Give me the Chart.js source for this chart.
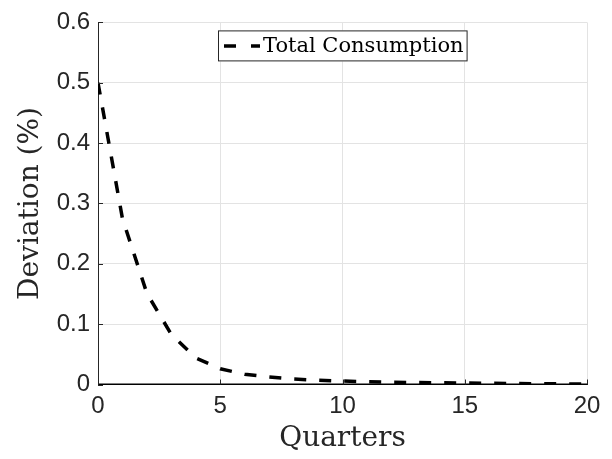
<!DOCTYPE html>
<html>
<head>
<meta charset="utf-8">
<script src="https://cdn.jsdelivr.net/npm/chart.js"></script>
<style>
  html, body { margin: 0; padding: 0; background: #fff; }
  #wrap { width: 612px; height: 459px; }
</style>
</head>
<body>
<div id="wrap"><canvas id="chart" width="612" height="459"></canvas></div>
<script>
// values
const quarters = [0, 1, 2, 3, 4, 5, 6, 7, 8, 9, 10, 11, 12, 13, 14, 15, 16, 17, 18, 19, 20];
const totalConsumption = [0.5, 0.275, 0.151, 0.083, 0.044, 0.026, 0.017, 0.0125, 0.009, 0.007,
  0.0057, 0.0046, 0.0038, 0.0032, 0.0028, 0.0024, 0.002, 0.0016, 0.0013, 0.001, 0.0008];
const zeroLine = [0, 0, 0, 0, 0, 0, 0, 0, 0, 0, 0, 0, 0, 0, 0, 0, 0, 0, 0, 0, 0];
const xTicks = [0, 5, 10, 15, 20];
const yTicks = [0, 0.1, 0.2, 0.3, 0.4, 0.5, 0.6];

const axisColor = '#262626';
const gridColor = '#e3e3e3';

const toPoints = (xs, ys) => xs.map((x, i) => ({ x: x, y: ys[i] }));

// MATLAB style legend box inside the axes
const legendBox = {
  id: 'legendBox',
  afterDatasetsDraw(chart) {
    const { ctx, chartArea } = chart;
    const ds = chart.data.datasets[0];
    ctx.save();
    ctx.font = '21px "DejaVu Serif"';
    const tw = ctx.measureText(ds.label).width;
    const padL = 6, sample = 36, gap = 3, padR = 4;
    const w = padL + sample + gap + tw + padR;
    const h = 31;
    const x0 = Math.round((chartArea.left + chartArea.right) / 2 - w / 2);
    const y0 = chartArea.top + 8;
    ctx.fillStyle = '#fff';
    ctx.fillRect(x0, y0, w, h);
    ctx.strokeStyle = axisColor;
    ctx.lineWidth = 1;
    ctx.strokeRect(x0 + 0.5, y0 + 0.5, w - 1, h - 1);

    ctx.strokeStyle = ds.borderColor;
    ctx.lineWidth = ds.borderWidth;
    ctx.setLineDash([12, 15]);
    ctx.beginPath();
    ctx.moveTo(x0 + padL, y0 + h / 2);
    ctx.lineTo(x0 + padL + sample, y0 + h / 2);
    ctx.stroke();
    ctx.setLineDash([]);

    ctx.fillStyle = '#000';
    ctx.textBaseline = 'middle';
    ctx.textAlign = 'left';
    ctx.fillText(ds.label, x0 + padL + sample + gap, y0 + h / 2 + 1);
    ctx.restore();
  }
};

// small inward tick marks
const innerTicks = {
  id: 'innerTicks',
  afterDraw(chart) {
    const { ctx, chartArea, scales } = chart;
    ctx.save();
    ctx.strokeStyle = axisColor;
    ctx.lineWidth = 1;
    ctx.beginPath();
    yTicks.forEach(v => {
      const y = Math.round(scales.y.getPixelForValue(v)) + 0.5;
      ctx.moveTo(chartArea.left, y);
      ctx.lineTo(chartArea.left + 5, y);
    });
    xTicks.forEach(v => {
      const x = Math.round(scales.x.getPixelForValue(v)) + 0.5;
      ctx.moveTo(x, chartArea.bottom);
      ctx.lineTo(x, chartArea.bottom - 5);
    });
    ctx.stroke();
    ctx.restore();
  }
};

new Chart(document.getElementById('chart'), {
  type: 'line',
  data: {
    datasets: [
      {
        label: 'Total Consumption',
        data: toPoints(quarters, totalConsumption),
        borderColor: '#000',
        borderWidth: 3.5,
        borderDash: [12, 13],
        borderCapStyle: 'butt',
        pointRadius: 0,
        tension: 0,
        fill: false,
        order: 0
      },
      {
        label: 'zero',
        data: toPoints(quarters, zeroLine),
        borderColor: '#000',
        borderWidth: 2,
        pointRadius: 0,
        tension: 0,
        fill: false,
        order: 1
      }
    ]
  },
  options: {
    responsive: false,
    animation: false,
    layout: { padding: { top: 17, right: 25, bottom: 0, left: 0 } },
    plugins: {
      legend: { display: false },
      tooltip: { enabled: false }
    },
    scales: {
      x: {
        type: 'linear',
        min: 0,
        max: 20,
        afterFit: (scale) => { scale.height = 74.5; },
        ticks: {
          stepSize: 5,
          padding: 7,
          color: axisColor,
          font: { family: '"Liberation Sans", Arial, sans-serif', size: 24 }
        },
        grid: { color: gridColor, drawTicks: false },
        border: { color: '#000', width: 1 },
        title: {
          display: true,
          text: 'Quarters',
          color: axisColor,
          padding: { top: 0, bottom: 6 },
          font: { family: '"DejaVu Serif", serif', size: 28, lineHeight: 1 }
        }
      },
      y: {
        min: 0,
        max: 0.6,
        afterFit: (scale) => { scale.width = 98; },
        ticks: {
          stepSize: 0.1,
          padding: 8,
          color: axisColor,
          font: { family: '"Liberation Sans", Arial, sans-serif', size: 24 },
          callback: (v) => (v === 0 ? '0' : v.toFixed(1))
        },
        grid: { color: gridColor, drawTicks: false },
        border: { color: axisColor, width: 1 },
        title: {
          display: true,
          text: 'Deviation (%)',
          color: axisColor,
          padding: { top: 17, bottom: 0 },
          font: { family: '"DejaVu Serif", serif', size: 28, lineHeight: 1 }
        }
      }
    }
  },
  plugins: [legendBox, innerTicks]
});
</script>
</body>
</html>
